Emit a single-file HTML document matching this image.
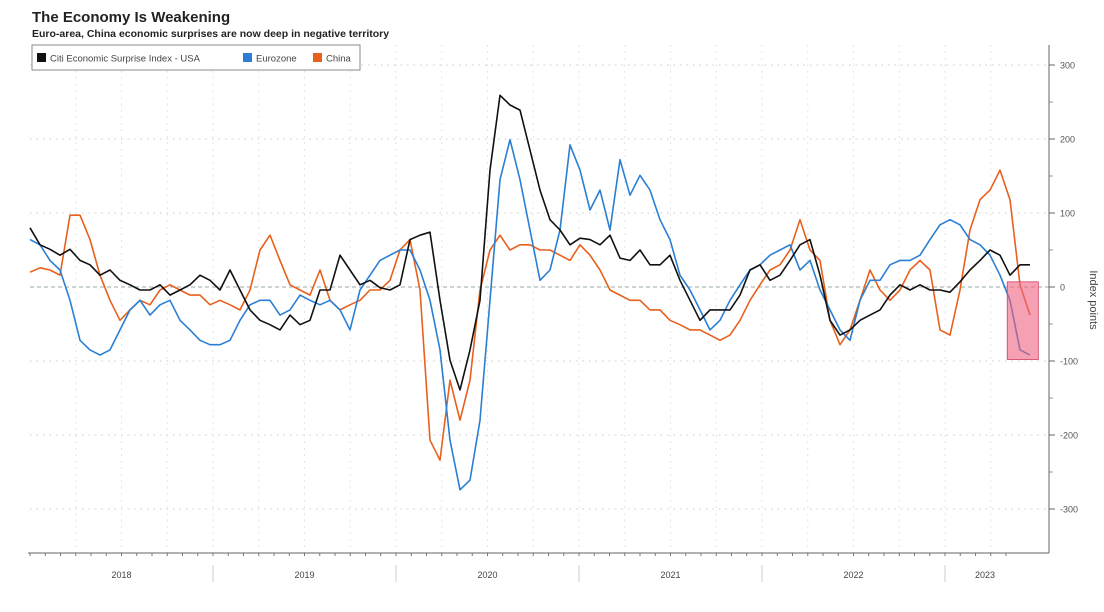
<!DOCTYPE html>
<html><head><meta charset="utf-8"><style>
body{margin:0;background:#fff;width:1104px;height:607px;overflow:hidden;font-family:"Liberation Sans",sans-serif}
</style></head><body>
<svg id="chart" width="1104" height="607" xmlns="http://www.w3.org/2000/svg">
<text x="32" y="22" font-size="15" font-weight="bold" fill="#222">The Economy Is Weakening</text>
<text x="32" y="37" font-size="10.5" font-weight="bold" fill="#222">Euro-area, China economic surprises are now deep in negative territory</text>
<g id="grid"></g><g id="axes"></g>
<g id="series"></g>
<rect id="hl" fill="#f06080" fill-opacity="0.6" stroke="#d04060" stroke-width="0.8"/>
<g>
<rect x="32" y="45" width="328" height="25" fill="#fff" stroke="#888" stroke-width="1"/>
<rect x="37" y="53" width="9" height="9" fill="#111"/>
<text x="50" y="61.5" font-size="9.5" fill="#444">Citi Economic Surprise Index - USA</text>
<rect x="243" y="53" width="9" height="9" fill="#2a7fd4"/>
<text x="256" y="61.5" font-size="9.5" fill="#444">Eurozone</text>
<rect x="313" y="53" width="9" height="9" fill="#e8601c"/>
<text x="326" y="61.5" font-size="9.5" fill="#444">China</text>
</g>
<text transform="translate(1090,300) rotate(90)" text-anchor="middle" font-size="11" fill="#444">Index points</text>
</svg>
<script>
const startYear=2018, stepYears=10/183;
const years=["2018","2019","2020","2021","2022","2023"];
const yTicks=[300,200,100,0,-100,-200,-300];
const usa=[80,57,51,43,51,36,30,16,23,9,3,-4,-4,3,-11,-4,3,16,9,-4,23,-4,-31,-45,-51,-58,-38,-51,-45,-4,-4,43,23,3,9,-1,-4,3,64,70,74,-18,-99,-139,-85,-18,158,259,246,239,185,131,91,77,57,66,64,57,70,39,36,50,30,30,43,9,-18,-45,-31,-31,-31,-11,23,30,9,16,36,57,64,16,-45,-65,-58,-45,-38,-31,-11,3,-4,3,-4,-4,-7,7,23,36,50,43,16,30,30];
const eurozone=[64,57,36,23,-18,-72,-85,-92,-85,-58,-31,-18,-38,-24,-18,-45,-58,-72,-78,-78,-72,-45,-24,-18,-18,-38,-31,-11,-18,-24,-18,-31,-58,-4,16,36,43,50,50,23,-18,-85,-207,-274,-261,-180,-18,145,199,145,77,9,23,77,192,158,104,131,77,172,124,151,131,91,64,16,-4,-31,-58,-45,-18,3,23,30,43,50,57,23,36,-4,-31,-58,-72,-18,9,9,30,36,36,43,64,84,91,84,64,57,43,16,-18,-85,-92];
const china=[20,26,23,16,97,97,64,16,-18,-45,-31,-18,-24,-4,3,-4,-11,-11,-24,-18,-24,-31,-4,50,70,36,3,-4,-11,23,-18,-31,-24,-18,-4,-4,9,50,64,-4,-207,-234,-126,-180,-126,-4,50,70,50,57,57,50,50,43,36,57,43,23,-4,-11,-18,-18,-31,-31,-45,-51,-58,-58,-65,-72,-65,-45,-18,3,23,30,50,91,50,36,-45,-78,-58,-18,23,-4,-18,-4,23,36,23,-58,-65,-4,77,118,131,158,118,3,-38];
const highlight=[2023.34,2023.51,7,-98];
const X=t=>30+(t-2018)*183, Y=v=>287-v*0.74;
const NS="http://www.w3.org/2000/svg";
function mk(tag,attrs,parent){const e=document.createElementNS(NS,tag);for(const k in attrs)e.setAttribute(k,attrs[k]);parent.appendChild(e);return e;}
const grid=document.getElementById('grid'), axes=document.getElementById('axes'), ser=document.getElementById('series');
yTicks.forEach(v=>{
 const l=mk('line',{x1:30,x2:1049,y1:Y(v),y2:Y(v),stroke:v===0?'#9aa':'#ccc','stroke-width':1,'stroke-dasharray':v===0?'4,3':'1.5,5'},grid);
 
 
 const t=mk('text',{x:1060,y:Y(v)+3.5,'font-size':9,fill:'#555'},axes);
 
 
 t.textContent=v;
 mk('line',{x1:1049,x2:1055,y1:Y(v),y2:Y(v),stroke:'#666'},axes);
 if(v>-300) mk('line',{x1:1049,x2:1053,y1:Y(v-50),y2:Y(v-50),stroke:'#999'},axes);
});
for(let q=0;q<22;q++){const x=X(2018+q*0.25);if(x>30&&x<1049)mk('line',{x1:x,x2:x,y1:45,y2:553,stroke:'#ddd','stroke-dasharray':'1.5,5'},grid);}
mk('line',{x1:1049,x2:1049,y1:45,y2:553,stroke:'#666'},axes);
mk('line',{x1:28,x2:1049,y1:553,y2:553,stroke:'#666'},axes);
for(let m=0;m<65;m++){const x=X(2018+m/12);if(x<1049)mk('line',{x1:x,x2:x,y1:553,y2:556,stroke:'#777'},axes);}
years.forEach((y,i)=>{
 const s=X(2018+i), e=Math.min(X(2019+i),1049);
 if(i>0) mk('line',{x1:s,x2:s,y1:565,y2:582,stroke:'#ccc'},axes);
 const t=mk('text',{x:(s+e)/2+(i===5?-12:0),y:578,'font-size':9,fill:'#444','text-anchor':'middle'},axes);
 
 
 t.textContent=y;
});
function line(data,color,name){
 const p=mk('polyline',{points:data.map((v,i)=>X(startYear+i*stepYears).toFixed(1)+','+Y(v).toFixed(1)).join(' '),fill:'none',stroke:color,'stroke-width':1.6,'stroke-linejoin':'round'},ser);
 
 
}
line(china,'#e8601c','china-line');
line(eurozone,'#2a7fd4','eurozone-line');
line(usa,'#111','usa-line');
const hl=document.getElementById('hl');
hl.setAttribute('x',X(highlight[0]));hl.setAttribute('width',X(highlight[1])-X(highlight[0]));
hl.setAttribute('y',Y(highlight[2]));hl.setAttribute('height',Y(highlight[3])-Y(highlight[2]));
</script>
</body></html>
